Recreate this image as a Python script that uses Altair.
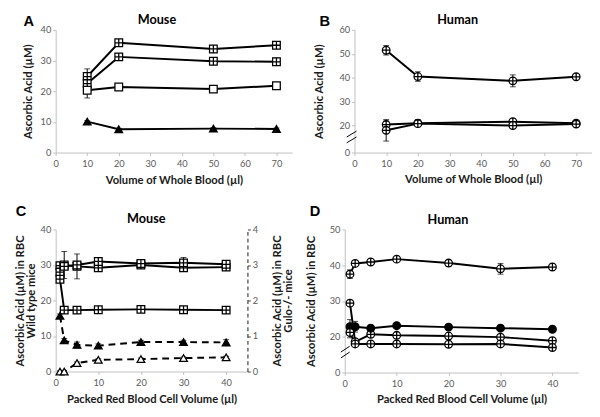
import altair as alt
import pandas as pd

# ---------------- data ----------------
# Panel A: Mouse, whole blood
a_x = [10, 20, 50, 70]
a_y1 = [24.8, 35.8, 33.8, 35.0]
a_e1 = [2.5, 0.8, 0.8, 0.8]
a_y2 = [22.5, 31.2, 29.8, 29.6]
a_e2 = [1.5, 0.6, 0.8, 1.2]
a_y3 = [20.3, 21.4, 20.7, 21.8]
a_e3 = [2.5, 0.5, 0.6, 0.5]
a_y4 = [10.1, 7.6, 7.8, 7.7]
a_e4 = [0.3, 0.3, 0.3, 0.3]

# Panel B: Human, whole blood
b_x = [10, 20, 50, 70]
b_y1 = [51.5, 40.5, 38.7, 40.4]
b_e1 = [2.0, 2.0, 2.5, 1.0]
b_y2 = [20.4, 21.0, 21.6, 21.0]
b_e2 = [1.5, 1.5, 1.0, 0.8]
b_y3 = [18.0, 20.8, 20.0, 20.6]
b_e3 = [4.5, 1.0, 1.0, 0.8]

# Panel C: Mouse, packed RBC (left axis wild type, right axis Gulo-/-)
c_x = [1, 2, 5, 10, 20, 30, 40]
c_y1 = [29.8, 30.0, 29.6, 29.2, 30.0, 29.2, 29.4]
c_e1 = [1.0, 3.8, 3.5, 0.8, 0.8, 0.8, 0.8]
c_y2 = [28.0, 29.6, 30.0, 31.0, 30.4, 30.6, 30.2]
c_e2 = [0.8, 0.8, 0.8, 0.8, 0.8, 1.5, 0.8]
c_y3 = [26.0, 17.3, 17.3, 17.4, 17.5, 17.4, 17.3]
c_e3 = [0.5, 0.5, 0.5, 0.5, 0.5, 0.5, 0.5]
c_g1 = [1.57, 0.88, 0.75, 0.73, 0.83, 0.83, 0.82]
c_ge1 = [0.05, 0.05, 0.08, 0.05, 0.05, 0.05, 0.08]
c_g2 = [0.0, 0.0, 0.24, 0.33, 0.35, 0.38, 0.40]
c_ge2 = [0.02, 0.02, 0.03, 0.03, 0.03, 0.03, 0.03]

# Panel D: Human, packed RBC
d_x = [1, 2, 5, 10, 20, 30, 40]
d_y1 = [37.5, 40.5, 40.9, 41.7, 40.6, 39.0, 39.5]
d_e1 = [1.2, 0.8, 0.6, 0.6, 0.8, 1.5, 0.5]
d_y2 = [29.4, 18.6, 20.7, 20.4, 20.2, 19.9, 18.9]
d_e2 = [0.8, 0.8, 0.6, 0.5, 0.5, 0.5, 0.5]
d_y3 = [22.8, 22.8, 22.4, 23.1, 22.7, 22.4, 22.1]
d_e3 = [2.0, 1.5, 0.5, 0.5, 0.5, 0.3, 0.3]
d_y4 = [21.2, 18.0, 18.0, 18.0, 17.9, 18.0, 17.0]
d_e4 = [1.5, 0.5, 0.3, 0.3, 0.5, 0.5, 0.3]

# ---------------- styling helpers ----------------
FONT = "Lato"
SQ = "M-1,-1H1V1H-1Z"
SQP = "M-1,-1H1V1H-1Z M0,-1V1 M-1,0H1"
CP = "M-1,0A1,1 0 1,0 1,0A1,1 0 1,0 -1,0Z M0,-1V1 M-1,0H1"
TRI = "triangle-up"


def make_df(xs, ys, es):
    return pd.DataFrame({"x": xs, "y": ys, "lo": [y - e for y, e in zip(ys, es)],
                         "hi": [y + e for y, e in zip(ys, es)]})


def caps_df(df):
    return pd.concat([df[["x"]].assign(v=df["lo"]), df[["x"]].assign(v=df["hi"])],
                     ignore_index=True)


def data_layers(series, X, yscale, yaxis, dash=None):
    """series: list of (xs, ys, errs, shape, fill)"""
    lines, bars, pts = [], [], []
    for xs, ys, es, shape, fill in series:
        df = make_df(xs, ys, es)
        base = alt.Chart(df)
        kw = dict(color="black", strokeWidth=2)
        if dash:
            kw["strokeDash"] = dash
        lines.append(base.mark_line(**kw).encode(
            x=X, y=alt.Y("y:Q", scale=yscale, axis=yaxis)))
        bars.append(base.mark_rule(color="black", strokeWidth=1).encode(
            x=X, y=alt.Y("lo:Q", scale=yscale, axis=yaxis), y2="hi:Q"))
        bars.append(alt.Chart(caps_df(df)).mark_tick(
            orient="horizontal", size=6, thickness=1, color="black").encode(
            x=X, y=alt.Y("v:Q", scale=yscale, axis=yaxis)))
        pts.append(base.mark_point(shape=shape, filled=True, fill=fill, stroke="black",
                                   strokeWidth=1.3, size=62, opacity=1).encode(
            x=X, y=alt.Y("y:Q", scale=yscale, axis=yaxis)))
    return lines + bars + pts


def txt(s, x, y, size, font, align="left"):
    return alt.Chart(pd.DataFrame({"t": [s]})).mark_text(
        font=font, fontSize=size, fontWeight="bold", align=align, baseline="alphabetic",
        color="black").encode(text="t:N", x=alt.value(x), y=alt.value(y))


def frame(x, y1, y2):
    return alt.Chart(pd.DataFrame({"a": [0]})).mark_rule(color="white", strokeWidth=1).encode(
        x=alt.value(x), x2=alt.value(x), y=alt.value(y1), y2=alt.value(y2))


def slash(x1, y1, x2, y2):
    return alt.Chart(pd.DataFrame({"a": [0]})).mark_rule(color="black", strokeWidth=1).encode(
        x=alt.value(x1), x2=alt.value(x2), y=alt.value(y1), y2=alt.value(y2))


# ---------------- Panel A ----------------
AW, AH = 243, 126
XA = alt.X("x:Q", scale=alt.Scale(domain=[0, 75], nice=False, zero=False),
           axis=alt.Axis(values=[0, 10, 20, 30, 40, 50, 60, 70], title="Volume of Whole Blood (µl)",
                         titleY=29, titleBaseline="middle"))
YA_s = alt.Scale(domain=[0, 40], nice=False)
YA_a = alt.Axis(values=[0, 10, 20, 30, 40], title="Ascorbic Acid (µM)",
                titleX=-28, titleY=AH / 2, titleBaseline="middle")
A = alt.layer(
    frame(-38, -16, AH + 38),
    *data_layers([
        (a_x, a_y1, a_e1, SQP, "white"),
        (a_x, a_y2, a_e2, SQP, "white"),
        (a_x, a_y3, a_e3, SQ, "white"),
        (a_x, a_y4, a_e4, TRI, "black"),
    ], XA, YA_s, YA_a),
    txt("A", -33, -4, 15, "Liberation Sans"),
    txt("Mouse", 104, -6, 13, FONT, "center"),
).properties(width=AW, height=AH)

# ---------------- Panel B ----------------
BW, BH = 244, 126
XB = alt.X("x:Q", scale=alt.Scale(domain=[0, 75], nice=False, zero=False),
           axis=alt.Axis(values=[0, 10, 20, 30, 40, 50, 60, 70], title="Volume of Whole Blood (µl)",
                         titleY=28, titleBaseline="middle"))
YB_s = alt.Scale(domain=[8.7, 60], nice=False, zero=False)
YB_a = alt.Axis(values=[8.7, 20, 30, 40, 50, 60], labelExpr="datum.value < 10 ? '0' : datum.label",
                title="Ascorbic Acid (µM)", titleX=-36, titleY=BH / 2, titleBaseline="middle")
B = alt.layer(
    *data_layers([
        (b_x, b_y1, b_e1, CP, "white"),
        (b_x, b_y2, b_e2, CP, "white"),
        (b_x, b_y3, b_e3, CP, "white"),
    ], XB, YB_s, YB_a),
    slash(-8, 110, 2, 104),
    slash(-8, 116, 2, 110),
    txt("B", -36, -4, 15, "Liberation Sans"),
    txt("Human", 106, -6, 13, FONT, "center"),
).properties(width=BW, height=BH)

# ---------------- Panel C ----------------
CW, CH = 197, 146
XC = alt.X("x:Q", scale=alt.Scale(domain=[0, 45], nice=False, zero=False),
           axis=alt.Axis(values=[0, 10, 20, 30, 40], title="Packed Red Blood Cell Volume (µl)",
                         titleY=29, titleBaseline="middle"))
YC_s = alt.Scale(domain=[0, 40], nice=False)
YC_a = alt.Axis(values=[0, 10, 20, 30, 40], title=["Ascorbic Acid (µM) in RBC", "Wild type mice"],
                titleX=-36.5, titleY=CH / 2, titleBaseline="middle", titleLineHeight=12)
YC2_s = alt.Scale(domain=[0, 4], nice=False)
YC2_a = alt.Axis(orient="right", values=[0, 1, 2, 3, 4], title=["Ascorbic Acid (µM) in RBC", "Gulo-/- mice"],
                 titleAngle=270, titleX=30.5, titleY=CH / 2, titleBaseline="middle", titleLineHeight=12,
                 domainDash=[4, 3], domainColor="#404040", tickColor="#404040", domainWidth=1.2)
c_left = alt.layer(*data_layers([
    (c_x, c_y1, c_e1, SQP, "white"),
    (c_x, c_y2, c_e2, SQP, "white"),
    (c_x, c_y3, c_e3, SQP, "white"),
], XC, YC_s, YC_a))
c_right = alt.layer(*data_layers([
    (c_x, c_g1, c_ge1, TRI, "black"),
    (c_x, c_g2, c_ge2, TRI, "white"),
], XC, YC2_s, YC2_a, dash=[7, 5]))
C = alt.layer(
    frame(-48, -26, CH + 34),
    c_left, c_right,
    txt("C", -41, -14, 15, "Liberation Sans"),
    txt("Mouse", 93, -7, 13, FONT, "center"),
).resolve_scale(y="independent").properties(width=CW, height=CH)

# ---------------- Panel D ----------------
DW, DH = 240, 147
XD = alt.X("x:Q", scale=alt.Scale(domain=[0, 45], nice=False, zero=False),
           axis=alt.Axis(values=[0, 10, 20, 30, 40], title="Packed Red Blood Cell Volume (µl)",
                         titleY=28, titleBaseline="middle"))
YD_s = alt.Scale(domain=[10, 50], nice=False, zero=False)
YD_a = alt.Axis(values=[10, 20, 30, 40, 50], labelExpr="datum.value == 10 ? '0' : datum.label",
                title="Ascorbic Acid (µM) in RBC", titleX=-34, titleY=DH / 2, titleBaseline="middle")
D = alt.layer(
    *data_layers([
        (d_x, d_y1, d_e1, CP, "white"),
        (d_x, d_y2, d_e2, CP, "white"),
        (d_x, d_y3, d_e3, CP, "black"),
        (d_x, d_y4, d_e4, CP, "white"),
    ], XD, YD_s, YD_a),
    slash(-4, 126, 5, 120),
    slash(-4, 132, 5, 126),
    txt("D", -36, -14, 15, "Liberation Sans"),
    txt("Human", 106, -6, 13, FONT, "center"),
).properties(width=DW, height=DH)

row1 = alt.hconcat(A, B, spacing=64, bounds="flush")
row2 = alt.hconcat(C, D, spacing=100, bounds="flush")

chart = alt.vconcat(row1, row2, spacing=13).properties(
    padding={"left": 0, "top": 0, "right": 0, "bottom": 0},
    background="white",
).configure_view(stroke=None).configure_axis(
    grid=False, labelFont=FONT, labelFontSize=9.5, labelColor="#595959",
    domainColor="#bfbfbf", tickColor="#bfbfbf", tickSize=3, labelPadding=2,
    titleFont=FONT, titleFontSize=11.5, titleFontWeight="bold", titleColor="#1a1a1a",
    labelFlush=False, labelOverlap=False,
).configure_axisBottom(labelPadding=3)

chart.save("out.html", embed_options={"renderer": "svg", "actions": False})
